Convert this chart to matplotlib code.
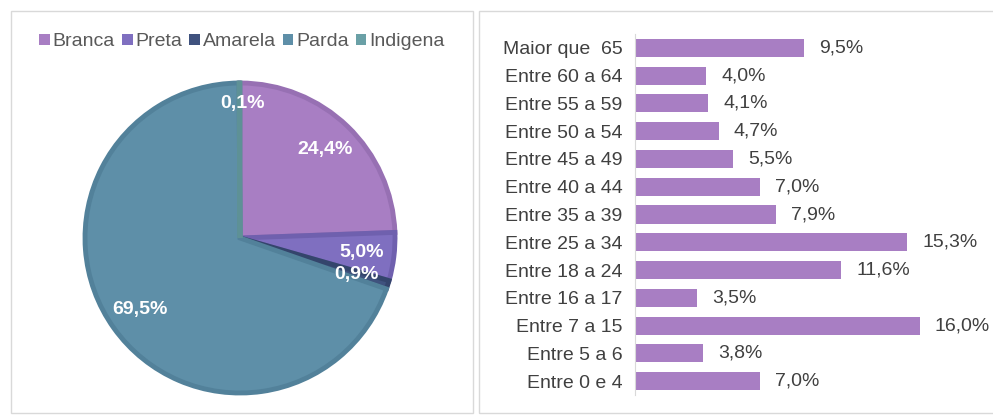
import matplotlib.pyplot as plt
from matplotlib.patches import Rectangle
import numpy as np

plt.rcParams['font.family'] = ['Liberation Sans', 'DejaVu Sans']

# pie data (cor/raça)
race_labels = ['Branca', 'Preta', 'Amarela', 'Parda', 'Indigena']
race_values = [24.4, 5.0, 0.9, 69.5, 0.1]
race_colors = ['#A87EC3', '#7F6FC0', '#3F527E', '#5E8FA8', '#6AA0A6']
race_edges = ['#9770B3', '#6F60AE', '#34456C', '#52819A', '#5E9196']

# bar data (faixa etária), top to bottom
age_labels = ['Maior que  65', 'Entre 60 a 64', 'Entre 55 a 59', 'Entre 50 a 54',
              'Entre 45 a 49', 'Entre 40 a 44', 'Entre 35 a 39', 'Entre 25 a 34',
              'Entre 18 a 24', 'Entre 16 a 17', 'Entre 7 a 15', 'Entre 5 a 6',
              'Entre 0 e 4']
age_values = [9.5, 4.0, 4.1, 4.7, 5.5, 7.0, 7.9, 15.3, 11.6, 3.5, 16.0, 3.8, 7.0]

W, H = 993, 415
fig = plt.figure(figsize=(W / 100, H / 100), dpi=100)
fig.patch.set_facecolor('white')


def px(x0, y0, x1, y1):
    # pixel box (top-left origin) -> figure fraction rect
    return [x0 / W, 1 - y1 / H, (x1 - x0) / W, (y1 - y0) / H]


# panel borders
for (x0, y0, x1, y1) in [(11, 11, 473, 413), (479, 11, 1000, 413)]:
    r = px(x0, y0, x1, y1)
    fig.add_artist(Rectangle((r[0], r[1]), r[2], r[3], transform=fig.transFigure,
                             fill=False, edgecolor='#D9D9D9', linewidth=1))

# pie
cx, cy, rad = 240, 238, 155
ax1 = fig.add_axes(px(cx - rad, cy - rad, cx + rad, cy + rad))
wedges, texts, autotexts = ax1.pie(
    race_values, colors=race_colors, startangle=90, counterclock=False,
    autopct='%.1f%%', pctdistance=0.79,
    wedgeprops=dict(linewidth=3.5),
    textprops=dict(color='white', fontsize=14, fontweight='bold'))
for w, ec in zip(wedges, race_edges):
    w.set_edgecolor(ec)
for i, t in enumerate(autotexts):
    t.set_text(f'{race_values[i]:.1f}%'.replace('.', ','))
# small Indigena label sits a bit further out
x, y = autotexts[4].get_position()
autotexts[4].set_position((x * 0.87 / 0.79 + 0.02, y * 0.87 / 0.79))
ax1.set_xlim(-1, 1)
ax1.set_ylim(-1, 1)
ax1.set_aspect('equal')

handles = [Rectangle((0, 0), 1, 1, facecolor=c) for c in race_colors]
fig.legend(handles, race_labels, loc='center', bbox_to_anchor=(242 / W, 1 - 42 / H),
           ncol=5, frameon=False, fontsize=14, handlelength=0.55, handleheight=0.55,
           handletextpad=0.15, columnspacing=0.35, labelcolor='#595959')

# bars
ax2 = fig.add_axes(px(635, 34, 991, 395))
y = np.arange(len(age_values))
ax2.barh(y, age_values, height=0.65, color='#A87EC3')
ax2.set_ylim(len(age_values) - 0.5, -0.5)
ax2.set_xlim(0, 20)
ax2.set_yticks(y)
ax2.set_yticklabels(age_labels, fontsize=14, color='#404040')
ax2.tick_params(axis='y', length=0, pad=9)
ax2.set_xticks([])
for s in ['top', 'right', 'bottom']:
    ax2.spines[s].set_visible(False)
ax2.spines['left'].set_color('#D9D9D9')
for yi, v in zip(y, age_values):
    ax2.text(v + 0.85, yi, f'{v:.1f}%'.replace('.', ','), va='center', ha='left',
             fontsize=14, color='#404040')

fig.savefig('out.png', dpi=100)
